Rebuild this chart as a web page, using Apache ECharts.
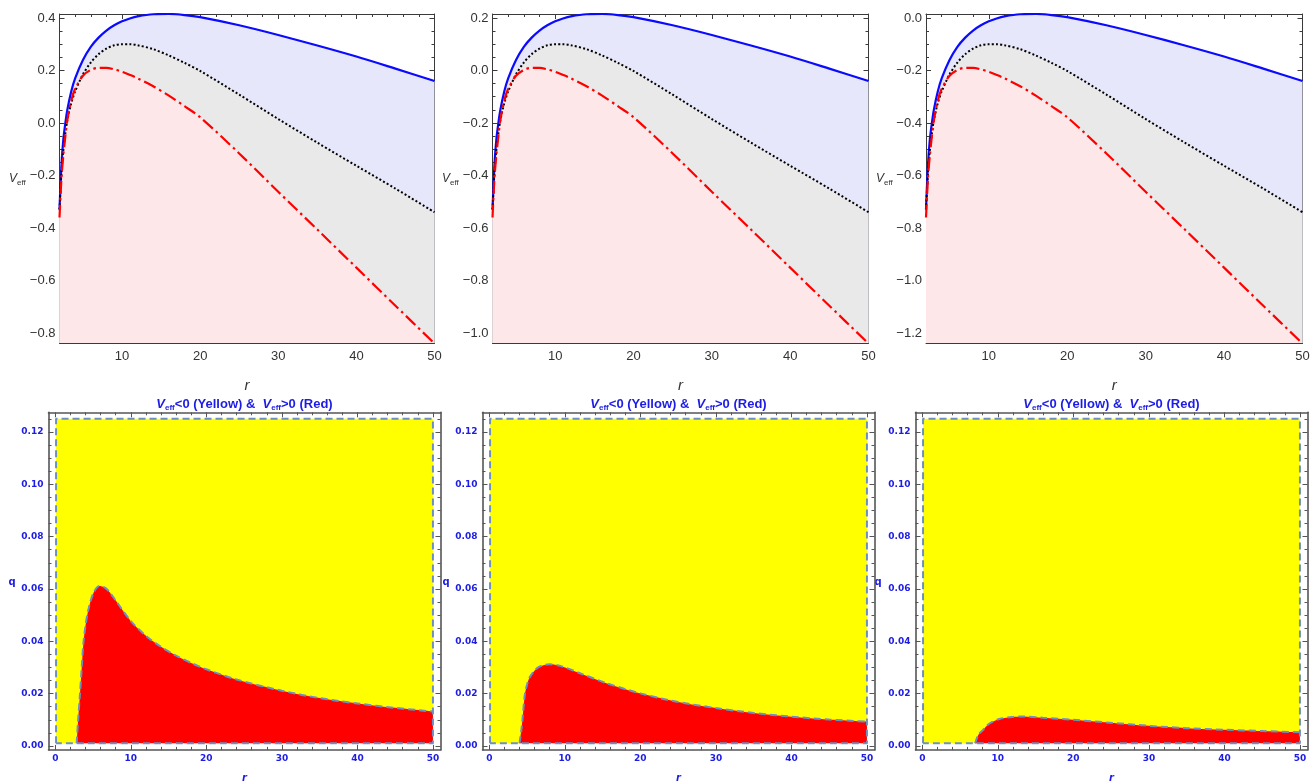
<!DOCTYPE html>
<html><head><meta charset="utf-8">
<script src="https://cdn.jsdelivr.net/npm/echarts@6/dist/echarts.min.js"></script>
<style>html,body{margin:0;padding:0;background:#fff}#c{width:1314px;height:781px}</style>
</head><body><div id="c"></div><script>
// ---------------- DATA ----------------
// Top row: V_eff(r) curves
const rTop = [2, 2.25, 2.5, 2.75, 3, 3.5, 4, 5, 6, 7, 8, 9, 10, 11, 12, 14, 16, 18, 20, 25, 30, 35, 40, 45, 50];
const blueA  = [-0.33, -0.16, -0.06, 0.0, 0.05, 0.12, 0.17, 0.24, 0.29, 0.325, 0.352, 0.372, 0.387, 0.398, 0.406, 0.414, 0.415, 0.411, 0.403, 0.372, 0.335, 0.295, 0.253, 0.207, 0.16];
const blackA = [-0.33, -0.19, -0.10, -0.04, 0.01, 0.075, 0.12, 0.185, 0.23, 0.262, 0.283, 0.296, 0.30, 0.30, 0.296, 0.281, 0.257, 0.229, 0.198, 0.108, 0.015, -0.075, -0.163, -0.25, -0.34];
const redA   = [-0.36, -0.21, -0.12, -0.05, 0.01, 0.085, 0.13, 0.18, 0.202, 0.21, 0.21, 0.204, 0.195, 0.183, 0.17, 0.14, 0.104, 0.064, 0.022, -0.116, -0.262, -0.406, -0.551, -0.696, -0.84];
const blueB  = [-0.53, -0.36, -0.26, -0.2, -0.15, -0.08, -0.03, 0.04, 0.09, 0.125, 0.152, 0.172, 0.187, 0.198, 0.206, 0.214, 0.215, 0.211, 0.203, 0.172, 0.135, 0.095, 0.053, 0.007, -0.04];
const blackB = [-0.53, -0.39, -0.30, -0.24, -0.19, -0.125, -0.08, -0.015, 0.03, 0.062, 0.083, 0.096, 0.10, 0.10, 0.096, 0.081, 0.057, 0.029, -0.002, -0.092, -0.185, -0.275, -0.363, -0.45, -0.54];
const redB   = [-0.56, -0.41, -0.32, -0.25, -0.19, -0.115, -0.07, -0.02, 0.002, 0.01, 0.01, 0.004, -0.005, -0.017, -0.03, -0.06, -0.096, -0.136, -0.178, -0.316, -0.462, -0.606, -0.751, -0.896, -1.04];
const blueC  = [-0.73, -0.56, -0.46, -0.4, -0.35, -0.28, -0.23, -0.16, -0.11, -0.075, -0.048, -0.028, -0.013, -0.002, 0.006, 0.014, 0.015, 0.011, 0.003, -0.028, -0.065, -0.105, -0.147, -0.193, -0.24];
const blackC = [-0.73, -0.59, -0.50, -0.44, -0.39, -0.325, -0.28, -0.215, -0.17, -0.138, -0.117, -0.104, -0.10, -0.10, -0.104, -0.119, -0.143, -0.171, -0.202, -0.292, -0.385, -0.475, -0.563, -0.65, -0.74];
const redC   = [-0.76, -0.61, -0.52, -0.45, -0.39, -0.315, -0.27, -0.22, -0.198, -0.19, -0.19, -0.196, -0.205, -0.217, -0.23, -0.26, -0.296, -0.336, -0.378, -0.516, -0.662, -0.806, -0.951, -1.096, -1.24];

const topXTicks = [10, 20, 30, 40, 50];
const topYTicksA = [0.4, 0.2, 0.0, -0.2, -0.4, -0.6, -0.8];
const topYTicksB = [0.2, 0.0, -0.2, -0.4, -0.6, -0.8, -1.0];
const topYTicksC = [0.0, -0.2, -0.4, -0.6, -0.8, -1.0, -1.2];
const topYRangeA = [-0.838, 0.415];
const topYRangeB = [-1.038, 0.215];
const topYRangeC = [-1.238, 0.015];
const topXRange = [2, 50];

// Bottom row: boundary q(r) where V_eff changes sign
const rBndA = [2.83, 3.0, 3.27, 3.5, 3.71, 4.0, 4.37, 5.03, 5.83, 6.5, 7, 8, 10, 12, 14, 16, 18, 20, 24, 30, 35, 40, 45, 50];
const qBndA = [0.001, 0.009, 0.020, 0.030, 0.039, 0.046, 0.052, 0.0583, 0.0611, 0.0606, 0.0594, 0.0556, 0.0477, 0.0421, 0.0379, 0.0345, 0.0317, 0.0293, 0.0254, 0.0211, 0.0183, 0.01625, 0.01456, 0.01316];
const rBndB = [4.0, 4.3, 4.7, 5.0, 5.4, 6.3, 7, 8, 9.4, 12, 15.5, 20, 25, 30, 35, 40, 45, 50];
const qBndB = [0.001, 0.0074, 0.0195, 0.0235, 0.0265, 0.0297, 0.0307, 0.0312, 0.0306, 0.0278, 0.024, 0.0201, 0.0168, 0.0145, 0.0126, 0.0112, 0.0101, 0.0093];
const rBndC = [7.0, 7.45, 8.1, 8.6, 9.2, 10.3, 12, 13.3, 16, 20, 24.8, 30, 35, 40, 45, 50];
const qBndC = [0.001, 0.0044, 0.0063, 0.0079, 0.0091, 0.0104, 0.0111, 0.0113, 0.0108, 0.0100, 0.0089, 0.0077, 0.0068, 0.0062, 0.0057, 0.0052];

const regionR = [0.1, 50];
const regionQ = [0.001, 0.125];
const botXRange = [-0.9, 51.0];
const botYRange = [-0.0015, 0.1275];
const botXTicks = [0, 10, 20, 30, 40, 50];
const botYTicks = [0.00, 0.02, 0.04, 0.06, 0.08, 0.10, 0.12];

// ---------------- BUILD ----------------
const grids = [], xAxes = [], yAxes = [], series = [], graphics = [];

function minorVals(min, max, step, majorStep) {
  const out = [];
  for (let k = Math.ceil(min / step - 1e-9); k * step <= max + 1e-12; k++) {
    const v = +(k * step).toFixed(6);
    const m = v / majorStep;
    if (Math.abs(m - Math.round(m)) < 1e-6) continue;
    out.push(v);
  }
  return out;
}

function addPanel(rect, xr, yr, xMaj, yMaj, xStep, yStep, xMajStep, yMajStep, st) {
  const g = grids.length;
  grids.push(Object.assign({containLabel: false, outerBoundsMode: 'none'}, rect));
  grids.push(Object.assign({containLabel: false, outerBoundsMode: 'none'}, rect));
  const lineStyle = {color: st.frame, width: st.frameW};
  const tickStyle = {color: st.frame, width: 1};
  const xMin = minorVals(xr[0], xr[1], xStep, xMajStep);
  const yMin = minorVals(yr[0], yr[1], yStep, yMajStep);
  const xi = xAxes.length, yi = yAxes.length;
  const lab = {color: st.labColor, fontSize: st.labSize, fontFamily: st.labFont, fontWeight: st.labWeight};
  xAxes.push({gridIndex: g, type: 'value', position: 'bottom', min: xr[0], max: xr[1],
    axisLine: {show: true, onZero: false, lineStyle},
    axisTick: {show: true, inside: true, length: st.majLen, customValues: xMaj, lineStyle: tickStyle},
    axisLabel: Object.assign({show: true, customValues: xMaj, margin: st.xMargin, formatter: st.xFmt}, lab),
    splitLine: {show: false}});
  xAxes.push({gridIndex: g, type: 'value', position: 'top', min: xr[0], max: xr[1],
    axisLine: {show: true, onZero: false, lineStyle},
    axisTick: {show: true, inside: true, length: st.majLen, customValues: xMaj, lineStyle: tickStyle},
    axisLabel: {show: false}, splitLine: {show: false}});
  xAxes.push({gridIndex: g + 1, type: 'value', position: 'bottom', min: xr[0], max: xr[1],
    axisLine: {show: false, onZero: false},
    axisTick: {show: true, inside: true, length: st.minLen, customValues: xMin, lineStyle: tickStyle},
    axisLabel: {show: false}, splitLine: {show: false}});
  xAxes.push({gridIndex: g + 1, type: 'value', position: 'top', min: xr[0], max: xr[1],
    axisLine: {show: false, onZero: false},
    axisTick: {show: true, inside: true, length: st.minLen, customValues: xMin, lineStyle: tickStyle},
    axisLabel: {show: false}, splitLine: {show: false}});
  yAxes.push({gridIndex: g, type: 'value', position: 'left', min: yr[0], max: yr[1],
    axisLine: {show: true, onZero: false, lineStyle},
    axisTick: {show: true, inside: true, length: st.majLen, customValues: yMaj, lineStyle: tickStyle},
    axisLabel: Object.assign({show: true, customValues: yMaj, margin: st.yMargin, formatter: st.yFmt}, lab),
    splitLine: {show: false}});
  yAxes.push({gridIndex: g, type: 'value', position: 'right', min: yr[0], max: yr[1],
    axisLine: {show: true, onZero: false, lineStyle},
    axisTick: {show: true, inside: true, length: st.majLen, customValues: yMaj, lineStyle: tickStyle},
    axisLabel: {show: false}, splitLine: {show: false}});
  yAxes.push({gridIndex: g + 1, type: 'value', position: 'left', min: yr[0], max: yr[1],
    axisLine: {show: false, onZero: false},
    axisTick: {show: true, inside: true, length: st.minLen, customValues: yMin, lineStyle: tickStyle},
    axisLabel: {show: false}, splitLine: {show: false}});
  yAxes.push({gridIndex: g + 1, type: 'value', position: 'right', min: yr[0], max: yr[1],
    axisLine: {show: false, onZero: false},
    axisTick: {show: true, inside: true, length: st.minLen, customValues: yMin, lineStyle: tickStyle},
    axisLabel: {show: false}, splitLine: {show: false}});
  return {xi, yi};
}

const topStyle = {frame: '#3a3a3a', frameW: 1, majLen: 5, minLen: 3, labColor: '#333', labSize: 13,
  labFont: "'Liberation Sans Narrow','Liberation Sans',Arial,sans-serif", labWeight: 'normal',
  xMargin: 7, yMargin: 4,
  xFmt: v => String(Math.round(v)),
  yFmt: v => (v < -1e-9 ? '\u2212' : '') + Math.abs(v).toFixed(1)};
const botStyle = {frame: '#555', frameW: 1.6, majLen: 5, minLen: 3, labColor: '#1c1ce6', labSize: 9,
  labFont: "'DejaVu Sans',sans-serif", labWeight: 'bold',
  xMargin: 4, yMargin: 5,
  xFmt: v => String(Math.round(v)),
  yFmt: v => v.toFixed(2)};

const topPanels = [
  {rect: {left: 59.5, top: 14, width: 375, height: 329}, yr: topYRangeA, yt: topYTicksA, b: blueA, k: blackA, r: redA, lx: 9},
  {rect: {left: 492.5, top: 14, width: 376, height: 329}, yr: topYRangeB, yt: topYTicksB, b: blueB, k: blackB, r: redB, lx: 442},
  {rect: {left: 926, top: 14, width: 376.5, height: 329}, yr: topYRangeC, yt: topYTicksC, b: blueC, k: blackC, r: redC, lx: 876}
];
const pts = (xs, ys) => xs.map((x, i) => [x, ys[i]]);

topPanels.forEach(p => {
  const {xi, yi} = addPanel(p.rect, topXRange, p.yr, topXTicks, p.yt, 2, 0.05, 10, 0.2, topStyle);
  const base = {type: 'line', xAxisIndex: xi, yAxisIndex: yi, showSymbol: false, symbol: 'none', smooth: 0.3, silent: true, animation: false};
  series.push(Object.assign({}, base, {data: pts(rTop, p.b), lineStyle: {width: 0}, areaStyle: {color: '#e6e7fb', opacity: 1, origin: 'start'}, z: 1}));
  series.push(Object.assign({}, base, {data: pts(rTop, p.k), lineStyle: {width: 0}, areaStyle: {color: '#e9e9e9', opacity: 1, origin: 'start'}, z: 1}));
  series.push(Object.assign({}, base, {data: pts(rTop, p.r), lineStyle: {width: 0}, areaStyle: {color: '#fde7e9', opacity: 1, origin: 'start'}, z: 1}));
  series.push(Object.assign({}, base, {data: pts(rTop, p.b), lineStyle: {color: '#0a0aff', width: 2.2}, z: 3}));
  series.push(Object.assign({}, base, {data: pts(rTop, p.k), lineStyle: {color: '#000', width: 2, type: [2, 2.2]}, z: 3}));
  series.push(Object.assign({}, base, {data: pts(rTop, p.r), lineStyle: {color: '#ff0000', width: 2.2, type: [13, 4, 2.5, 4]}, z: 3}));
  const cx = p.rect.left + p.rect.width / 2;
  graphics.push({type: 'text', x: cx, y: 386, style: {text: 'r', font: "italic 15px 'Liberation Sans',Arial,sans-serif", fill: '#333', align: 'center', verticalAlign: 'middle'}});
  graphics.push({type: 'text', x: p.lx, y: 179, style: {text: '{v|V}{s|eff}', align: 'left', verticalAlign: 'middle',
    rich: {v: {fontStyle: 'italic', fontSize: 12, fontFamily: "'Liberation Sans',Arial,sans-serif", fill: '#333', lineHeight: 15},
           s: {fontSize: 8, fontFamily: "'Liberation Sans',Arial,sans-serif", fill: '#333', lineHeight: 8, verticalAlign: 'bottom'}}}});
});

const botPanels = [
  {rect: {left: 48.5, top: 412.3, width: 392, height: 337.6}, r: rBndA, q: qBndA, qx: 12},
  {rect: {left: 482.5, top: 412.3, width: 392, height: 337.6}, r: rBndB, q: qBndB, qx: 446},
  {rect: {left: 915.5, top: 412.3, width: 392, height: 337.6}, r: rBndC, q: qBndC, qx: 878}
];
const dashStyle = {color: '#6d8fc2', width: 2, type: [7, 4]};
botPanels.forEach(p => {
  const {xi, yi} = addPanel(p.rect, botXRange, botYRange, botXTicks, botYTicks, 2, 0.005, 10, 0.02, botStyle);
  const base = {type: 'line', xAxisIndex: xi, yAxisIndex: yi, showSymbol: false, symbol: 'none', silent: true, animation: false};
  series.push(Object.assign({}, base, {data: [[regionR[0], regionQ[1]], [regionR[1], regionQ[1]]], lineStyle: {width: 0},
    areaStyle: {color: '#ffff00', opacity: 1, origin: regionQ[0]}, z: 1}));
  series.push(Object.assign({}, base, {data: pts(p.r, p.q), smooth: 0.3, lineStyle: {width: 0},
    areaStyle: {color: '#ff0000', opacity: 1, origin: regionQ[0]}, z: 2}));
  series.push(Object.assign({}, base, {data: [[regionR[0], regionQ[0]], [regionR[0], regionQ[1]], [regionR[1], regionQ[1]], [regionR[1], regionQ[0]], [regionR[0], regionQ[0]]],
    lineStyle: dashStyle, z: 3}));
  series.push(Object.assign({}, base, {data: pts(p.r, p.q), smooth: 0.3, lineStyle: dashStyle, z: 3}));
  const cx = p.rect.left + p.rect.width / 2;
  graphics.push({type: 'text', x: cx, y: 404, style: {text: '{v|V}{s|eff}{t|<0 (Yellow) &  }{v|V}{s|eff}{t|>0 (Red)}', align: 'center', verticalAlign: 'middle',
    rich: {v: {fontStyle: 'italic', fontWeight: 'bold', fontSize: 13, fontFamily: "'Liberation Sans',Arial,sans-serif", fill: '#1c1ce6', lineHeight: 16},
           s: {fontWeight: 'bold', fontSize: 8, fontFamily: "'Liberation Sans',Arial,sans-serif", fill: '#1c1ce6', lineHeight: 8, verticalAlign: 'bottom'},
           t: {fontWeight: 'bold', fontSize: 13, fontFamily: "'Liberation Sans',Arial,sans-serif", fill: '#1c1ce6', lineHeight: 16}}}});
  graphics.push({type: 'text', x: p.qx, y: 582, style: {text: 'q', font: "bold 10px 'DejaVu Sans',sans-serif", fill: '#1c1ce6', align: 'center', verticalAlign: 'middle'}});
  graphics.push({type: 'text', x: cx, y: 778, style: {text: 'r', font: "italic bold 10px 'DejaVu Sans',sans-serif", fill: '#1c1ce6', align: 'center', verticalAlign: 'middle'}});
});

const chart = echarts.init(document.getElementById('c'), null, {renderer: 'canvas'});
chart.setOption({animation: false, backgroundColor: '#fff', grid: grids, xAxis: xAxes, yAxis: yAxes, series, graphic: graphics});
</script></body></html>
